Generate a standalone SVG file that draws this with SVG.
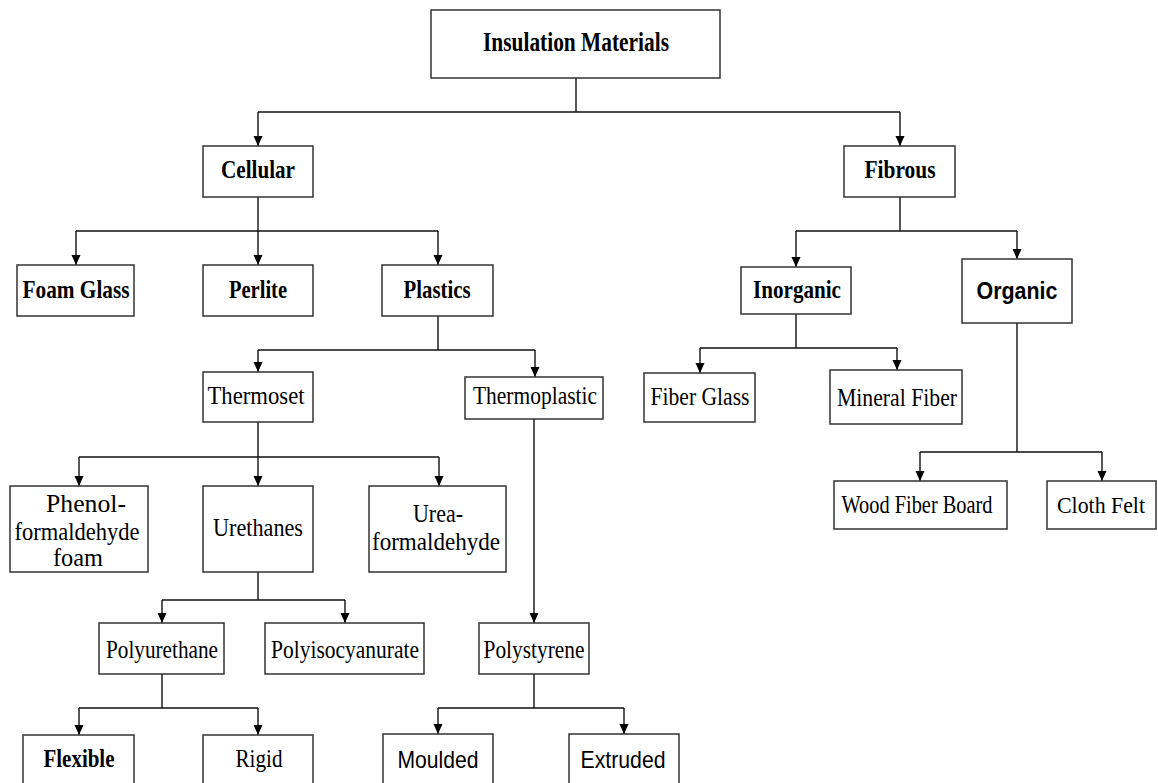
<svg xmlns="http://www.w3.org/2000/svg" width="1158" height="783" viewBox="0 0 1158 783">
<style>
.box{fill:#fff;stroke:#333;stroke-width:1.5}
.t{font-family:"Liberation Serif","Times New Roman",serif;font-size:26px;fill:#000;text-anchor:middle}
.m{font-size:25px}
.b{font-weight:bold;font-size:25px}
.s{font-family:"Liberation Sans",Arial,sans-serif;font-size:24px}
.c{fill:none;stroke:#111;stroke-width:1.4}
</style>
<defs>
<marker id="ah" markerUnits="userSpaceOnUse" markerWidth="10" markerHeight="10" refX="10" refY="4.5" orient="auto">
<path d="M0,0 L10,4.5 L0,9 Z" fill="#000"/>
</marker>
</defs>
<rect width="1158" height="783" fill="#fff"/>
<g id="connectors">
<path class="c" d="M576,78 V112 M258,112 H900"/>
<path class="c" d="M258,112 V146" marker-end="url(#ah)"/>
<path class="c" d="M900,112 V146" marker-end="url(#ah)"/>
<path class="c" d="M258,197 V231 M76,231 H438"/>
<path class="c" d="M76,231 V265" marker-end="url(#ah)"/>
<path class="c" d="M258,231 V265" marker-end="url(#ah)"/>
<path class="c" d="M438,231 V265" marker-end="url(#ah)"/>
<path class="c" d="M900,197 V231 M796,231 H1017"/>
<path class="c" d="M796,231 V267" marker-end="url(#ah)"/>
<path class="c" d="M1017,231 V259" marker-end="url(#ah)"/>
<path class="c" d="M438,316 V350 M258,350 H535"/>
<path class="c" d="M258,350 V372" marker-end="url(#ah)"/>
<path class="c" d="M535,350 V377" marker-end="url(#ah)"/>
<path class="c" d="M796,314 V348 M700,348 H897"/>
<path class="c" d="M700,348 V373" marker-end="url(#ah)"/>
<path class="c" d="M897,348 V370" marker-end="url(#ah)"/>
<path class="c" d="M1017,323 V452 M920,452 H1102"/>
<path class="c" d="M920,452 V481" marker-end="url(#ah)"/>
<path class="c" d="M1102,452 V481" marker-end="url(#ah)"/>
<path class="c" d="M258,422 V457 M79,457 H439"/>
<path class="c" d="M79,457 V486" marker-end="url(#ah)"/>
<path class="c" d="M258,457 V486" marker-end="url(#ah)"/>
<path class="c" d="M439,457 V486" marker-end="url(#ah)"/>
<path class="c" d="M534,419 V623" marker-end="url(#ah)"/>
<path class="c" d="M258,572 V600 M162,600 H345"/>
<path class="c" d="M162,600 V623" marker-end="url(#ah)"/>
<path class="c" d="M345,600 V623" marker-end="url(#ah)"/>
<path class="c" d="M162,674 V708 M79,708 H258"/>
<path class="c" d="M79,708 V735" marker-end="url(#ah)"/>
<path class="c" d="M258,708 V735" marker-end="url(#ah)"/>
<path class="c" d="M534,674 V708 M438,708 H624"/>
<path class="c" d="M438,708 V734" marker-end="url(#ah)"/>
<path class="c" d="M624,708 V734" marker-end="url(#ah)"/>
</g>
<g id="insulation"><rect class="box" x="431" y="10" width="289" height="68"/><text class="t b" x="576" y="51" style="font-size:27px" textLength="186" lengthAdjust="spacingAndGlyphs">Insulation Materials</text></g>
<g id="cellular"><rect class="box" x="203" y="146" width="110" height="51"/><text class="t b" x="258" y="178" textLength="74" lengthAdjust="spacingAndGlyphs">Cellular</text></g>
<g id="fibrous"><rect class="box" x="844" y="146" width="111" height="51"/><text class="t b" x="900" y="178" textLength="71" lengthAdjust="spacingAndGlyphs">Fibrous</text></g>
<g id="foamglass"><rect class="box" x="17" y="265" width="117" height="51"/><text class="t b" x="76" y="298" textLength="107" lengthAdjust="spacingAndGlyphs">Foam Glass</text></g>
<g id="perlite"><rect class="box" x="203" y="265" width="110" height="51"/><text class="t b" x="258" y="298" textLength="58" lengthAdjust="spacingAndGlyphs">Perlite</text></g>
<g id="plastics"><rect class="box" x="382" y="265" width="111" height="51"/><text class="t b" x="437" y="298" textLength="67" lengthAdjust="spacingAndGlyphs">Plastics</text></g>
<g id="inorganic"><rect class="box" x="741" y="267" width="110" height="47"/><text class="t b" x="797" y="298" textLength="88" lengthAdjust="spacingAndGlyphs">Inorganic</text></g>
<g id="organic"><rect class="box" x="962" y="259" width="110" height="64"/><text class="t s b" x="1017" y="299" textLength="81" lengthAdjust="spacingAndGlyphs">Organic</text></g>
<g id="thermoset"><rect class="box" x="203" y="372" width="110" height="50"/><text class="t" x="256" y="404" textLength="97" lengthAdjust="spacingAndGlyphs">Thermoset</text></g>
<g id="thermoplastic"><rect class="box" x="465" y="377" width="138" height="42"/><text class="t" x="535" y="404" textLength="124" lengthAdjust="spacingAndGlyphs">Thermoplastic</text></g>
<g id="fiberglass"><rect class="box" x="644" y="373" width="111" height="49"/><text class="t" x="700" y="405" textLength="99" lengthAdjust="spacingAndGlyphs">Fiber Glass</text></g>
<g id="mineralfiber"><rect class="box" x="830" y="370" width="132" height="54"/><text class="t" x="897" y="406" textLength="120" lengthAdjust="spacingAndGlyphs">Mineral Fiber</text></g>
<g id="phenol"><rect class="box" x="10" y="486" width="138" height="86"/><text class="t m" x="86" y="512" textLength="80" lengthAdjust="spacingAndGlyphs">Phenol-</text><text class="t m" x="77" y="540" textLength="125" lengthAdjust="spacingAndGlyphs">formaldehyde</text><text class="t m" x="78" y="566" textLength="50" lengthAdjust="spacingAndGlyphs">foam</text></g>
<g id="urethanes"><rect class="box" x="203" y="486" width="110" height="86"/><text class="t" x="258" y="536" textLength="90" lengthAdjust="spacingAndGlyphs">Urethanes</text></g>
<g id="urea"><rect class="box" x="369" y="486" width="137" height="86"/><text class="t m" x="438" y="522" textLength="50" lengthAdjust="spacingAndGlyphs">Urea-</text><text class="t m" x="436" y="550" textLength="128" lengthAdjust="spacingAndGlyphs">formaldehyde</text></g>
<g id="woodfiber"><rect class="box" x="834" y="481" width="173" height="48"/><text class="t" x="917" y="513" textLength="151" lengthAdjust="spacingAndGlyphs">Wood Fiber Board</text></g>
<g id="clothfelt"><rect class="box" x="1047" y="481" width="109" height="48"/><text class="t" x="1101" y="513" style="font-size:23px" textLength="88" lengthAdjust="spacingAndGlyphs">Cloth Felt</text></g>
<g id="polyurethane"><rect class="box" x="99" y="623" width="125" height="51"/><text class="t" x="162" y="658" textLength="112" lengthAdjust="spacingAndGlyphs">Polyurethane</text></g>
<g id="polyisocyanurate"><rect class="box" x="265" y="623" width="159" height="51"/><text class="t" x="345" y="658" textLength="148" lengthAdjust="spacingAndGlyphs">Polyisocyanurate</text></g>
<g id="polystyrene"><rect class="box" x="479" y="623" width="110" height="51"/><text class="t" x="534" y="658" textLength="101" lengthAdjust="spacingAndGlyphs">Polystyrene</text></g>
<g id="flexible"><rect class="box" x="23" y="735" width="111" height="60"/><text class="t b" x="79" y="767" textLength="71" lengthAdjust="spacingAndGlyphs">Flexible</text></g>
<g id="rigid"><rect class="box" x="203" y="735" width="110" height="60"/><text class="t" x="259" y="767" textLength="47" lengthAdjust="spacingAndGlyphs">Rigid</text></g>
<g id="moulded"><rect class="box" x="383" y="734" width="110" height="60"/><text class="t s" x="438" y="768" textLength="81" lengthAdjust="spacingAndGlyphs">Moulded</text></g>
<g id="extruded"><rect class="box" x="569" y="734" width="110" height="60"/><text class="t s" x="623" y="768" textLength="85" lengthAdjust="spacingAndGlyphs">Extruded</text></g>
</svg>
